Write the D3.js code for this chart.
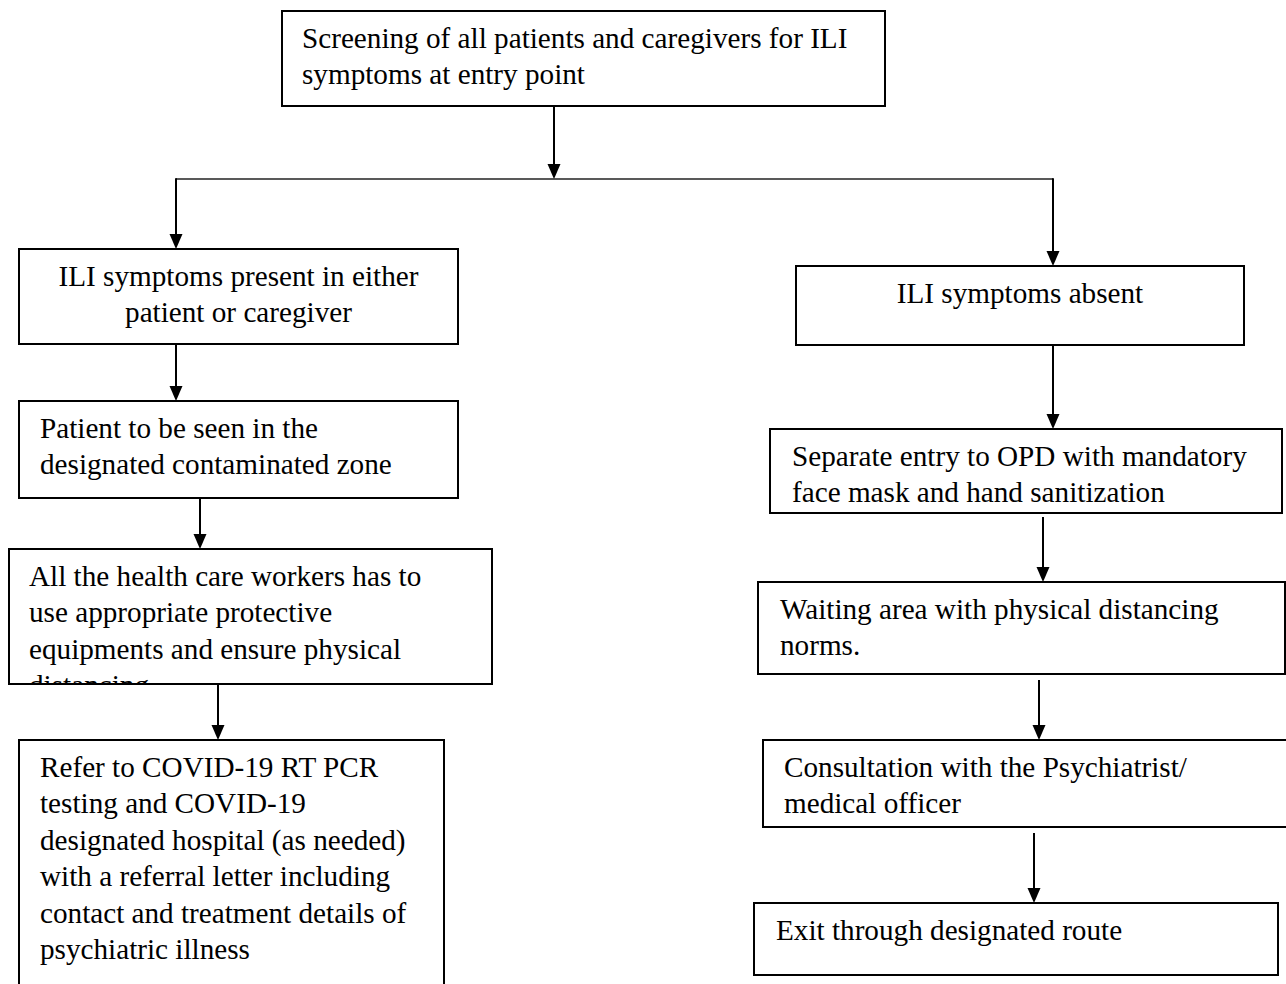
<!DOCTYPE html>
<html>
<head>
<meta charset="utf-8">
<script src="https://cdn.jsdelivr.net/npm/d3@7"></script>
<style>
  html, body { margin: 0; padding: 0; background: #fff; }
  svg { display: block; }
  .step text { font-family: "Liberation Serif", "Times New Roman", serif; font-size: 29.2px; fill: #000; }
</style>
</head>
<body>
<div id="flow"></div>
<script>
(function () {
    'use strict';

    // step texts, one array of lines per box
    var stepLines = [
        ["Screening of all patients and caregivers for ILI", "symptoms at entry point"],
        ["ILI symptoms present in either", "patient or caregiver"],
        ["Patient to be seen in the", "designated contaminated zone"],
        ["All the health care workers has to", "use appropriate protective",
         "equipments and ensure physical", "distancing"],
        ["Refer to COVID-19 RT PCR", "testing and COVID-19", "designated hospital (as needed)",
         "with a referral letter including", "contact and treatment details of", "psychiatric illness"],
        ["ILI symptoms absent"],
        ["Separate entry to OPD with mandatory", "face mask and hand sanitization"],
        ["Waiting area with physical distancing", "norms."],
        ["Consultation with the Psychiatrist/", "medical officer"],
        ["Exit through designated route"]
    ];

    // which step follows which
    var links = [[1, 2], [2, 3], [3, 4], [5, 6], [6, 7], [7, 8], [8, 9]];
    var branchFrom = 0, branchTo = [1, 5];

    // page layout of the boxes (pixels)
    var layout = [
        {x0: 282, y0: 11,  x1: 885,  y1: 106, pad: 20, anchor: "start"},
        {x0: 19,  y0: 249, x1: 458,  y1: 344, pad: 0,  anchor: "middle"},
        {x0: 19,  y0: 401, x1: 458,  y1: 498, pad: 21, anchor: "start"},
        {x0: 9,   y0: 549, x1: 492,  y1: 684, pad: 20, anchor: "start"},
        {x0: 19,  y0: 740, x1: 444,  y1: 1010, pad: 21, anchor: "start"},
        {x0: 796, y0: 266, x1: 1244, y1: 345, pad: 0,  anchor: "middle"},
        {x0: 770, y0: 429, x1: 1282, y1: 513, pad: 22, anchor: "start"},
        {x0: 758, y0: 582, x1: 1285, y1: 674, pad: 22, anchor: "start"},
        {x0: 763, y0: 740, x1: 1300, y1: 827, pad: 21, anchor: "start"},
        {x0: 754, y0: 903, x1: 1278, y1: 975, pad: 22, anchor: "start"}
    ];
    var linkX = [176, 200, 218, 1053, 1043, 1039, 1034];
    var linkGap = [0, 0, 0, 0, 4, 6, 6];
    var branchX = 554, branchY = 179, branchDropX = [176, 1053];

    var width = 1286, height = 984,
        firstLine = 36.5, lineHeight = 36.5,
        headLen = 15, headHalf = 6.5;

    var x = d3.scaleIdentity().domain([0, width]),
        y = d3.scaleIdentity().domain([0, height]);

    var svg = d3.select("#flow").append("svg")
        .attr("width", width)
        .attr("height", height);

    var defs = svg.append("defs");

    var steps = stepLines.map(function (lines, i) {
        return {id: i, lines: lines, box: layout[i]};
    });

    defs.selectAll("clipPath")
        .data(steps)
        .enter()
        .append("clipPath")
        .attr("id", function (d) { return "clip" + d.id; })
        .append("rect")
        .attr("x", function (d) { return x(d.box.x0); })
        .attr("y", function (d) { return y(d.box.y0); })
        .attr("width", function (d) { return x(d.box.x1) - x(d.box.x0); })
        .attr("height", function (d) { return y(d.box.y1) - y(d.box.y0); });

    function arrow(g, xa, ya, yb, sw) {
        g.append("line")
            .attr("x1", x(xa)).attr("x2", x(xa))
            .attr("y1", y(ya)).attr("y2", y(yb) - headLen + 1)
            .attr("stroke", "#000")
            .attr("stroke-width", sw || 2);
        g.append("path")
            .attr("d", "M" + (x(xa) - headHalf) + "," + (y(yb) - headLen) +
                "L" + (x(xa) + headHalf) + "," + (y(yb) - headLen) +
                "L" + x(xa) + "," + y(yb) + "Z")
            .attr("fill", "#000");
    }

    var arrows = svg.append("g").attr("class", "arrows");

    // split after screening
    arrow(arrows, branchX, layout[branchFrom].y1, branchY);
    arrows.append("line")
        .attr("x1", x(d3.min(branchDropX))).attr("x2", x(d3.max(branchDropX)))
        .attr("y1", y(branchY)).attr("y2", y(branchY))
        .attr("stroke", "#222")
        .attr("stroke-width", 1.6);
    branchTo.forEach(function (t, i) {
        arrow(arrows, branchDropX[i], branchY - 0.8, layout[t].y0);
    });

    links.forEach(function (l, i) {
        arrow(arrows, linkX[i], layout[l[0]].y1 + linkGap[i], layout[l[1]].y0);
    });

    var step = svg.selectAll("g.step")
        .data(steps)
        .enter()
        .append("g")
        .attr("class", "step");

    step.append("rect")
        .attr("x", function (d) { return x(d.box.x0); })
        .attr("y", function (d) { return y(d.box.y0); })
        .attr("width", function (d) { return x(d.box.x1) - x(d.box.x0); })
        .attr("height", function (d) { return y(d.box.y1) - y(d.box.y0); })
        .attr("fill", "none")
        .attr("stroke", "#000")
        .attr("stroke-width", 2);

    step.append("g")
        .attr("clip-path", function (d) { return "url(#clip" + d.id + ")"; })
        .selectAll("text")
        .data(function (d) {
            return d.lines.map(function (t, k) { return {text: t, k: k, box: d.box}; });
        })
        .enter()
        .append("text")
        .attr("x", function (d) {
            return d.box.anchor === "middle" ? x((d.box.x0 + d.box.x1) / 2) : x(d.box.x0 + d.box.pad);
        })
        .attr("y", function (d) { return y(d.box.y0 + firstLine + d.k * lineHeight); })
        .attr("text-anchor", function (d) { return d.box.anchor; })
        .text(function (d) { return d.text; });

}());
</script>
</body>
</html>
